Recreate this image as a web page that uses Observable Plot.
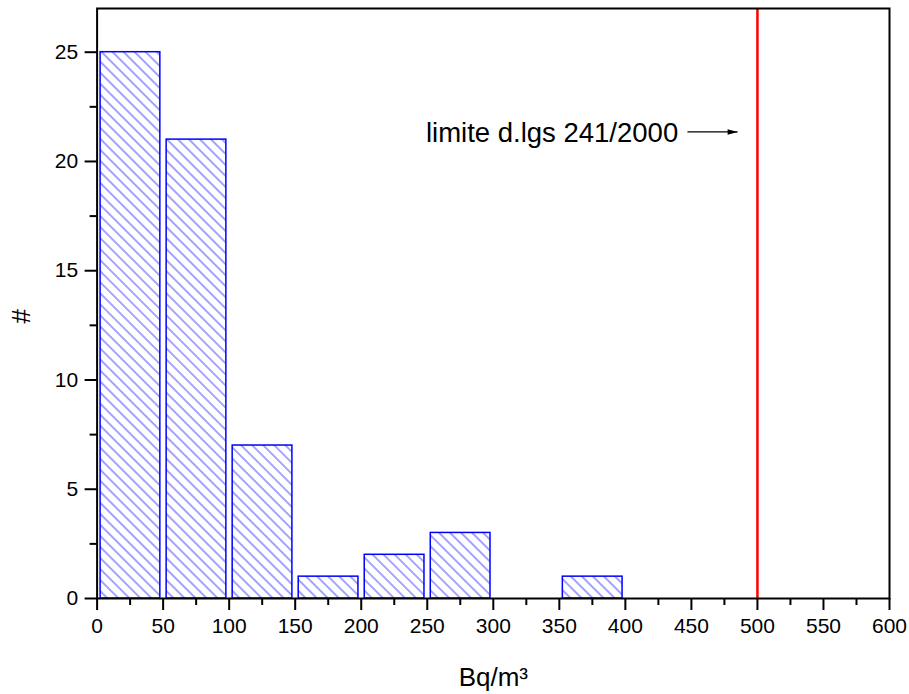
<!DOCTYPE html>
<html><head><meta charset="utf-8">
<script src="https://cdn.jsdelivr.net/npm/d3@7"></script>
<script src="https://cdn.jsdelivr.net/npm/@observablehq/plot@0.6"></script>
<style>body{margin:0;background:#fff}</style>
</head><body><div id="chart"></div>
<script>
// Data
const binStart = [0, 50, 100, 150, 200, 250, 350];
const binEnd   = [50, 100, 150, 200, 250, 300, 400];
const counts   = [25, 21, 7, 1, 2, 3, 1];
const limitValue = [500];
const xMajorTicks = [0, 50, 100, 150, 200, 250, 300, 350, 400, 450, 500, 550, 600];
const xMinorTicks = [25, 75, 125, 175, 225, 275, 325, 375, 425, 475, 525, 575];
const yMajorTicks = [0, 5, 10, 15, 20, 25];
const yMinorTicks = [2.5, 7.5, 12.5, 17.5, 22.5];
const annotationText = ["limite d.lgs 241/2000"];
const annotationX = [440];
const annotationY = [21.3];
const arrowX1 = [447];
const arrowX2 = [485];
const arrowY  = [21.35];
const xLabel = "Bq/m³";
const yLabel = "#";

const bins = counts.map((c, i) => ({x1: binStart[i], x2: binEnd[i], y: c}));
const ann = annotationText.map((t, i) => ({t, x: annotationX[i], y: annotationY[i]}));
const arr = arrowX1.map((x1, i) => ({x1, x2: arrowX2[i], y: arrowY[i]}));

const arrowHead = {
  draw(ctx) {
    ctx.moveTo(0, 0);
    ctx.lineTo(-10, -2.8);
    ctx.lineTo(-10, 2.8);
    ctx.closePath();
  }
};

const font = "'Liberation Sans', Arial, sans-serif";

const svg = Plot.plot({
  width: 909,
  height: 694,
  marginLeft: 96.6,
  marginRight: 20,
  marginTop: 8,
  marginBottom: 96,
  style: {fontFamily: font, fontSize: "21px", background: "#fff", color: "#000"},
  x: {domain: [0, 600], label: null},
  y: {domain: [0, 27], label: null},
  marks: [
    Plot.rectY(bins, {x1: "x1", x2: "x2", y: "y", fill: "url(#hatch)", stroke: "#0000ff", strokeWidth: 1.5, insetLeft: 3.5, insetRight: 2.8}),
    Plot.ruleX(limitValue, {stroke: "#ff0000", strokeWidth: 2.5}),
    Plot.frame({stroke: "#000", strokeWidth: 2}),
    Plot.axisX({ticks: xMajorTicks, tickSize: 12, tickPadding: 8, strokeWidth: 2, fontSize: 21, tickFormat: d => String(d), label: null}),
    Plot.axisX({ticks: xMinorTicks, tickSize: 7, strokeWidth: 2, tickFormat: null, text: null, label: null}),
    Plot.axisY({ticks: yMajorTicks, tickSize: 12, tickPadding: 7, strokeWidth: 2, fontSize: 21, tickFormat: d => String(d), label: null}),
    Plot.axisY({ticks: yMinorTicks, tickSize: 7, strokeWidth: 2, tickFormat: null, text: null, label: null}),
    Plot.text(ann, {x: "x", y: "y", text: "t", textAnchor: "end", fontSize: 27.5, fill: "#000"}),
    Plot.link(arr, {x1: "x1", x2: "x2", y1: "y", y2: "y", stroke: "#000", strokeWidth: 1.2}),
    Plot.dot(arr, {x: "x2", y: "y", symbol: arrowHead, fill: "#000", stroke: "none", r: 1}),
    Plot.text([xLabel], {text: d => d, frameAnchor: "bottom", dy: 87, lineAnchor: "bottom", fontSize: 26, fill: "#000"}),
    Plot.text([yLabel], {text: d => d, frameAnchor: "left", dx: -75, dy: 20, rotate: -90, fontSize: 26, fill: "#000"})
  ]
});

const ns = "http://www.w3.org/2000/svg";
const defs = document.createElementNS(ns, "defs");
defs.innerHTML = '<pattern id="hatch" patternUnits="userSpaceOnUse" width="7.8" height="7.8" patternTransform="rotate(45)"><rect width="7.8" height="7.8" fill="#fff"/><line x1="0" y1="3.9" x2="7.8" y2="3.9" stroke="#5a5aff" stroke-width="1.1"/></pattern>';
svg.insertBefore(defs, svg.firstChild);
document.getElementById("chart").appendChild(svg);
</script>
</body></html>
